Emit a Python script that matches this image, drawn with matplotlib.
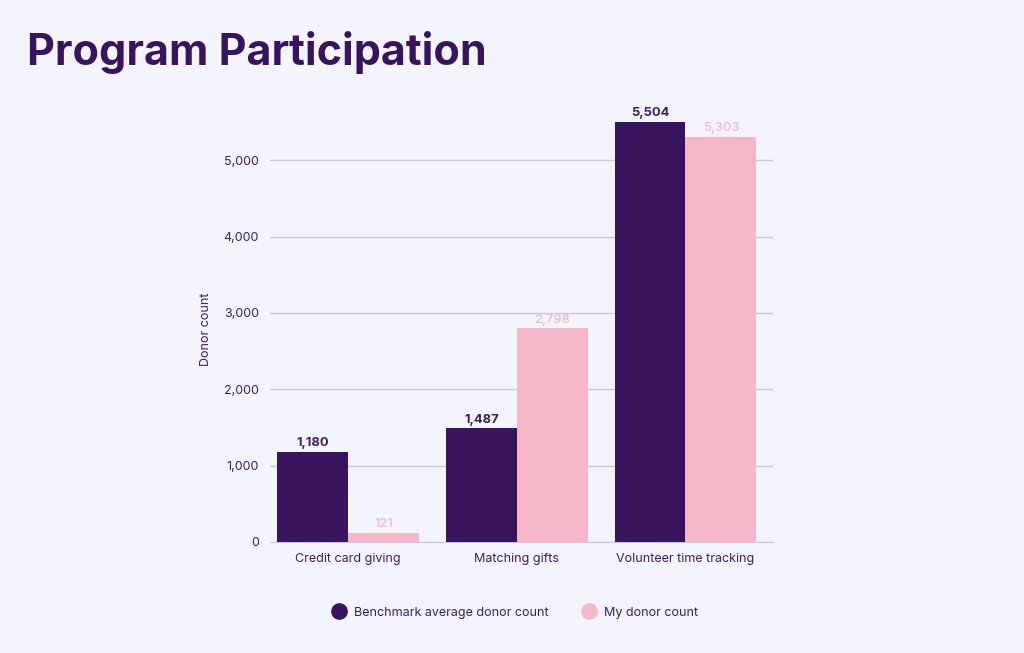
import matplotlib.pyplot as plt
import numpy as np

categories = ["Credit card giving", "Matching gifts", "Volunteer time tracking"]
benchmark = [1180, 1487, 5504]
mine = [121, 2798, 5303]
series_names = ["Benchmark average donor count", "My donor count"]
yticks = [0, 1000, 2000, 3000, 4000, 5000]

BG = "#F4F4FD"
DARK = "#39145E"
PINK = "#F5B6C8"
GRID = "#CBC7DD"
TEXT = "#3D1F63"

plt.rcParams["font.family"] = ["Inter", "DejaVu Sans"]

fig = plt.figure(figsize=(10.24, 6.53), dpi=100, facecolor=BG)
ax = fig.add_axes([0.2637, 0.170, 0.4913, 0.678], facecolor=BG)

x = np.arange(len(categories))
w = 0.42
b1 = ax.bar(x - w / 2, benchmark, w, color=DARK, label=series_names[0], zorder=3)
b2 = ax.bar(x + w / 2, mine, w, color=PINK, label=series_names[1], zorder=3)

for rect, v in zip(b1, benchmark):
    ax.annotate(f"{v:,}", (rect.get_x() + rect.get_width() / 2, v),
                xytext=(0, 2), textcoords="offset points", ha="center", va="bottom",
                fontsize=9.3, fontweight="bold", color=TEXT)
for rect, v in zip(b2, mine):
    ax.annotate(f"{v:,}", (rect.get_x() + rect.get_width() / 2, v),
                xytext=(0, 2), textcoords="offset points", ha="center", va="bottom",
                fontsize=9.3, fontweight="medium", color=PINK)

ax.set_xlim(-0.463, 2.52)
ax.set_ylim(0, 5800)
ax.set_yticks(yticks)
ax.set_yticklabels([f"{t:,}" for t in yticks])
ax.set_xticks(x)
ax.set_xticklabels(categories)
ax.tick_params(length=0, labelsize=9, labelcolor=TEXT)
ax.tick_params(axis="y", pad=8)
ax.tick_params(axis="x", pad=8)
ax.grid(axis="y", color=GRID, lw=1, zorder=0)
for s in ["top", "right", "left"]:
    ax.spines[s].set_visible(False)
ax.spines["bottom"].set_color(GRID)
ax.set_ylabel("Donor count", fontsize=9, color=TEXT)
ax.yaxis.set_label_coords(-0.115, 0.48)

handles = [plt.Line2D([], [], marker="o", ls="", ms=11, color=c) for c in (DARK, PINK)]
fig.legend(handles, series_names, loc="center", bbox_to_anchor=(0.5, 0.062), ncol=2,
           frameon=False, fontsize=9, labelcolor=TEXT, handletextpad=0.2,
           columnspacing=2.2)

fig.text(0.026, 0.92, "Program Participation", fontsize=31, fontweight="bold",
         color=DARK, va="center", ha="left")

fig.savefig("out.png", dpi=100, facecolor=BG)
